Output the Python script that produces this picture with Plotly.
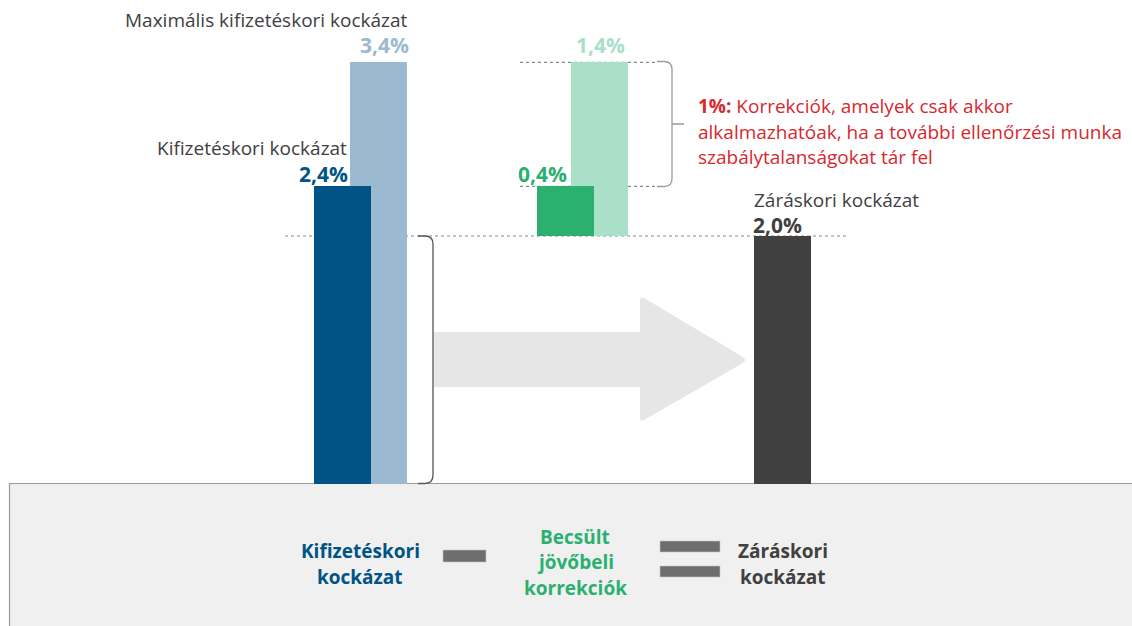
import plotly.graph_objects as go

# ---- data ----
bar_names = ["Kifizetéskori kockázat", "Maximális kifizetéskori kockázat",
             "Becsült jövőbeli korrekciók", "Maximális korrekciók", "Záráskori kockázat"]
bar_values = [2.4, 3.4, 0.4, 1.4, 2.0]       # bar height (%)
bar_bases = [0.0, 0.0, 2.0, 2.0, 0.0]        # bar base (%)
value_labels = ["2,4%", "3,4%", "0,4%", "1,4%", "2,0%"]
bar_colors = ["#005485", "#9bbad1", "#2bb070", "#a9e0c7", "#404040"]

# ---- layout helpers (pixel geometry) ----
W, H = 1132, 626
Y0_PX = 484.0        # pixel row of 0 %
PX_PER_PCT = 124.0   # pixels per 1 %


def py(p):
    """pixel row -> y data value"""
    return (Y0_PX - p) / PX_PER_PCT


bar_centers = [342.5, 378.5, 565.5, 599.5, 782.5]
bar_width = 57
draw_order = [1, 0, 3, 2, 4]

FONT = "Open Sans"
fig = go.Figure()
for i in draw_order:
    fig.add_trace(go.Bar(
        x=[bar_centers[i]], y=[bar_values[i]], base=[bar_bases[i]],
        width=[bar_width], marker=dict(color=bar_colors[i], line=dict(width=0)),
        name=bar_names[i], showlegend=False, hoverinfo="name+y"))

shapes = []
# bottom panel
shapes.append(dict(type="rect", xref="x", yref="y", x0=9.5, x1=1145, y0=py(483.5), y1=py(650),
                   fillcolor="#f0f0f0", line=dict(color="#9a9a9a", width=1.2), layer="below"))
# dotted reference lines
dot = dict(color="#8a8a8a", width=1.2, dash="dot")
shapes.append(dict(type="line", xref="x", yref="y", x0=285, x1=848, y0=2.0, y1=2.0, line=dot, layer="below"))
shapes.append(dict(type="line", xref="x", yref="y", x0=520, x1=657, y0=3.4, y1=3.4, line=dot, layer="below"))
shapes.append(dict(type="line", xref="x", yref="y", x0=520, x1=657, y0=2.4, y1=2.4, line=dot, layer="below"))


def P(x, p):
    return f"{x},{py(p):.5f}"


# grey arrow
arrow = (f"M {P(434,332)} L {P(640,332)} L {P(640,300)} Q {P(640,296)} {P(644,298)} "
         f"L {P(743,357)} Q {P(747,360)} {P(743,363)} L {P(644,420)} Q {P(640,422)} {P(640,418)} "
         f"L {P(640,387)} L {P(434,387)} Z")
shapes.append(dict(type="path", xref="x", yref="y", path=arrow, fillcolor="#e6e6e6",
                   line=dict(width=0), layer="below"))

# left bracket
lb = (f"M {P(418,236)} L {P(425,236)} Q {P(433,236)} {P(433,244)} L {P(433,475)} "
      f"Q {P(433,483.5)} {P(425,483.5)} L {P(418,483.5)}")
shapes.append(dict(type="path", xref="x", yref="y", path=lb, line=dict(color="#555555", width=1.3)))
# right bracket
rb = (f"M {P(657,61.5)} L {P(664,61.5)} Q {P(672,61.5)} {P(672,69.5)} L {P(672,178.5)} "
      f"Q {P(672,186.5)} {P(664,186.5)} L {P(657,186.5)} M {P(672,124)} L {P(684,124)}")
shapes.append(dict(type="path", xref="x", yref="y", path=rb, line=dict(color="#9a9a9a", width=1.3)))

# minus and equals signs
sign_col = "#6d6e70"
shapes.append(dict(type="rect", xref="x", yref="y", x0=443, x1=486, y0=py(550), y1=py(562),
                   fillcolor=sign_col, line=dict(color="#c8c8c8", width=0.6)))
shapes.append(dict(type="rect", xref="x", yref="y", x0=660, x1=720, y0=py(541), y1=py(552),
                   fillcolor=sign_col, line=dict(color="#c8c8c8", width=0.6)))
shapes.append(dict(type="rect", xref="x", yref="y", x0=660, x1=720, y0=py(566), y1=py(577),
                   fillcolor=sign_col, line=dict(color="#c8c8c8", width=0.6)))

ann = []


def txt(text, x, p, color, size=19, anchor="left", bold=False):
    ann.append(dict(text=f"<b>{text}</b>" if bold else text, x=x, y=py(p), xref="x", yref="y",
                    xanchor=anchor, yanchor="middle", showarrow=False, align=anchor,
                    font=dict(family=FONT, size=size, color=color)))


dark = "#404040"
PCT = 21
txt(bar_names[1], 410, 20, dark, anchor="right")
txt(value_labels[1], 411, 45, bar_colors[1], size=PCT, anchor="right", bold=True)
txt(bar_names[0], 349, 148, dark, anchor="right")
txt(value_labels[0], 350, 173.5, bar_colors[0], size=PCT, anchor="right", bold=True)
txt(value_labels[3], 627, 45, bar_colors[3], size=PCT, anchor="right", bold=True)
txt(value_labels[2], 569, 173.5, bar_colors[2], size=PCT, anchor="right", bold=True)
txt(bar_names[4], 752, 199.5, dark)
txt(value_labels[4], 751, 225, dark, size=PCT, bold=True)

red = "#d7282f"
txt("<b>1%:</b> Korrekciók, amelyek csak akkor", 696, 106, red)
txt("alkalmazhatóak, ha a további ellenőrzési munka", 696, 132, red)
txt("szabálytalanságokat tár fel", 696, 157, red)

# bottom equation labels
txt("Kifizetéskori", 360, 551, bar_colors[0], anchor="center", bold=True)
txt("kockázat", 360, 577, bar_colors[0], anchor="center", bold=True)
txt("Becsült", 575, 537, bar_colors[2], anchor="center", bold=True)
txt("jövőbeli", 575, 562, bar_colors[2], anchor="center", bold=True)
txt("korrekciók", 575, 588, bar_colors[2], anchor="center", bold=True)
txt("Záráskori", 783, 551, dark, anchor="center", bold=True)
txt("kockázat", 783, 577, dark, anchor="center", bold=True)

fig.update_layout(
    width=W, height=H, margin=dict(l=0, r=0, t=0, b=0),
    paper_bgcolor="white", plot_bgcolor="white",
    barmode="overlay", bargap=0,
    xaxis=dict(range=[0, W], visible=False, fixedrange=True),
    yaxis=dict(range=[py(H), py(0)], visible=False, fixedrange=True),
    shapes=shapes, annotations=ann, showlegend=False,
)

fig.write_html("out.html", config={"displayModeBar": False},
               post_script="document.body.style.margin='0';document.body.style.overflow='hidden';")
